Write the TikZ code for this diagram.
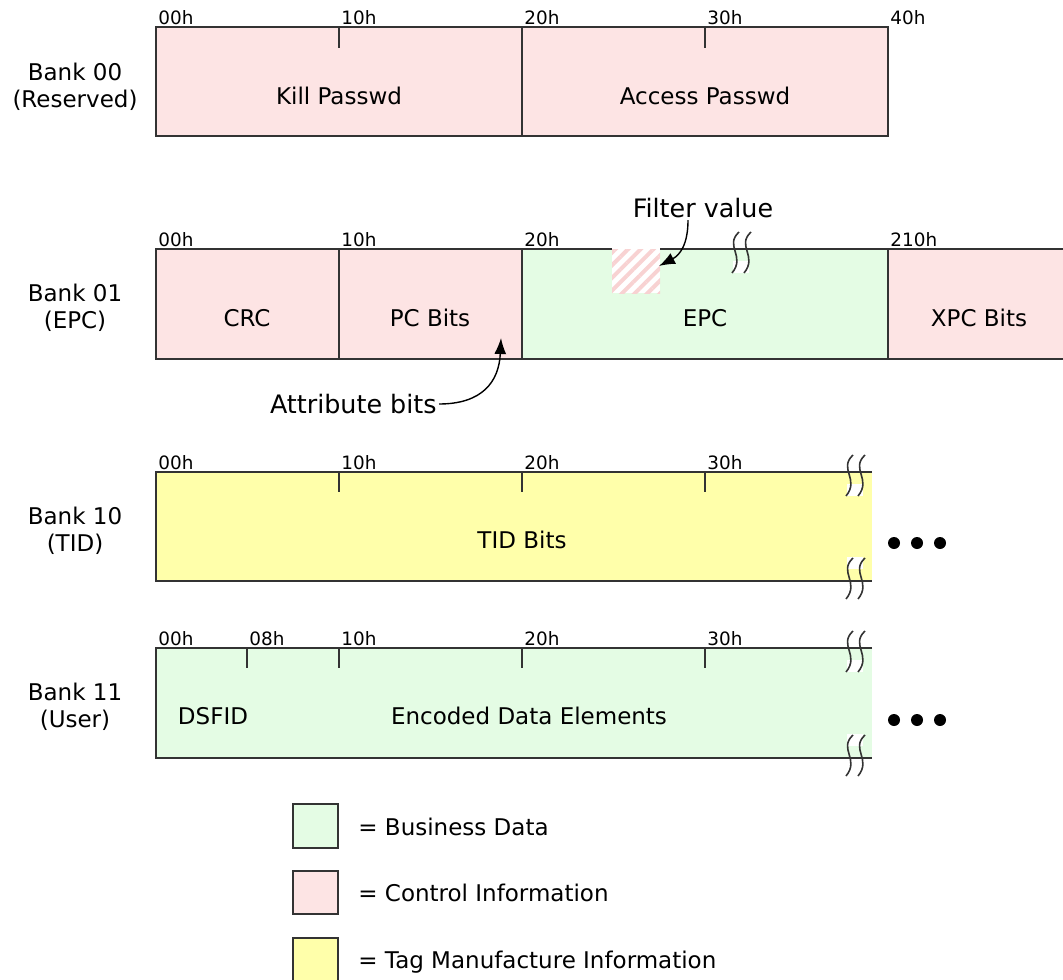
\documentclass[tikz,border=0pt]{standalone}
\usepackage{fontspec}
\setmainfont{DejaVu Sans}
\usepackage{tikz}
\usetikzlibrary{arrows.meta,patterns.meta}
\definecolor{bizgreen}{RGB}{228,252,228}
\definecolor{ctlpink}{RGB}{253,228,228}
\definecolor{tagyellow}{RGB}{255,255,170}
\definecolor{hatchpink}{RGB}{248,210,210}
\tikzset{font=\fontsize{11.5}{13.5}\selectfont}
\tikzset{bank/.style={draw=black!80, line width=0.9pt}}
\tikzset{addr/.style={anchor=south west, inner sep=1pt, font=\fontsize{9.2}{10}\selectfont}}
\tikzset{banklbl/.style={align=center, inner sep=0pt}}
\tikzset{callout/.style={-{Latex[length=8pt,width=6pt]}, line width=0.7pt}}
\tikzset{note/.style={inner sep=1pt, font=\fontsize{12.7}{15}\selectfont}}
\tikzset{wavy/.style={line width=0.8pt, draw=black!80}}
\tikzset{brktop/.pic={
    \fill[white] (-8,12) rectangle (8,24);
    \foreach \d in {-6,6}
    \draw[wavy] ({\d+4},-17) .. controls ({\d-11},-3) and ({\d+11},7) .. ({\d-3},24);
  }}
\tikzset{brkbot/.pic={
    \fill[white] (-8,-24) rectangle (8,-12);
    \foreach \d in {-6,6}
    \draw[wavy] ({\d+4},-23) .. controls ({\d-11},-9) and ({\d+11},1) .. ({\d-3},18);
  }}

\begin{document}
\begin{tikzpicture}[x=0.5pt,y=-0.5pt]
\useasboundingbox (0,0) rectangle (1063,979);

% Bank 00 (reserved)
\draw[bank, fill=ctlpink] (156,27) rectangle (888,136);
\draw[bank] (522,27) -- (522,136);
\foreach \x in {339,705}
\draw[bank] (\x,27) -- (\x,48);
\foreach \x/\t in {156/00h,339/10h,522/20h,705/30h,888/40h}
\node[addr] (r-\x) at (\x,27) {\t};
\node (kill) at (339,96) {Kill Passwd};
\node (access) at (705,96) {Access Passwd};
\node[banklbl] (bank00) at (75,87) {Bank 00\\(Reserved)};

% Bank 01 (EPC)
\fill[ctlpink] (156,249) rectangle (522,359);
\fill[bizgreen] (522,249) rectangle (888,359);
\fill[ctlpink] (888,249) rectangle (1063,359);
\draw[bank] (1063,249) -- (156,249) -- (156,359) -- (1063,359);
\foreach \x in {339,522,888}
\draw[bank] (\x,249) -- (\x,359);
\fill[white] (612,246) rectangle (660,293);
\fill[pattern={Lines[angle=45,distance=4.5pt,line width=2pt]}, pattern color=hatchpink] (612,249) rectangle (660,293);
\pic at (741,249) {brktop};
\foreach \x/\t in {156/00h,339/10h,522/20h,888/210h}
\node[addr] (e-\x) at (\x,249) {\t};
\node (crc) at (247,318) {CRC};
\node (pcbits) at (430,318) {PC Bits};
\node (epc) at (705,318) {EPC};
\node (xpc) at (979,318) {XPC Bits};
\node[banklbl] (bank01) at (75,308) {Bank 01\\(EPC)};
\node[note] (filter) at (703,208) {Filter value};
\coordinate (fval) at (659,266);
\draw[callout] ([xshift=-7.5pt]filter.south) .. controls ([xshift=-7.5pt,yshift=-12pt]filter.south) and (680,255) .. (fval);
\node[note, anchor=east] (attr) at (439,404) {Attribute bits};
\coordinate (abits) at (501,338);
\draw[callout] (attr.east) .. controls (482,404) and (499,382) .. (abits);

% Bank 10 (TID)
\fill[tagyellow] (156,472) rectangle (872,581);
\draw[bank] (872,472) -- (156,472) -- (156,581) -- (872,581);
\foreach \x in {339,522,705}
\draw[bank] (\x,472) -- (\x,492);
\pic at (855,472) {brktop};
\pic at (855,581) {brkbot};
\foreach \x/\t in {156/00h,339/10h,522/20h,705/30h}
\node[addr] (t-\x) at (\x,472) {\t};
\node (tid) at (522,540) {TID Bits};
\node[banklbl] (bank10) at (75,531) {Bank 10\\(TID)};
\foreach \x in {894,917,940}
\fill (\x,543) circle[radius=3pt];

% Bank 11 (user)
\fill[bizgreen] (156,648) rectangle (872,758);
\draw[bank] (872,648) -- (156,648) -- (156,758) -- (872,758);
\foreach \x in {247,339,522,705}
\draw[bank] (\x,648) -- (\x,668);
\pic at (855,648) {brktop};
\pic at (855,758) {brkbot};
\foreach \x/\t in {156/00h,247/08h,339/10h,522/20h,705/30h}
\node[addr] (u-\x) at (\x,648) {\t};
\node (dsfid) at (213,716) {DSFID};
\node (encoded) at (529,716) {Encoded Data Elements};
\node[banklbl] (bank11) at (75,707) {Bank 11\\(User)};
\foreach \x in {894,917,940}
\fill (\x,720) circle[radius=3pt];

% legend
\draw[bank, fill=bizgreen] (293,804) rectangle (338,848);
\draw[bank, fill=ctlpink] (293,871) rectangle (338,914);
\draw[bank, fill=tagyellow] (293,938) rectangle (338,984);
\node[anchor=west, inner sep=0pt] (lgbiz) at (358,827) {= Business Data};
\node[anchor=west, inner sep=0pt] (lgctl) at (358,893) {= Control Information};
\node[anchor=west, inner sep=0pt] (lgtag) at (358,962) {= Tag Manufacture Information};

\end{tikzpicture}
\end{document}
